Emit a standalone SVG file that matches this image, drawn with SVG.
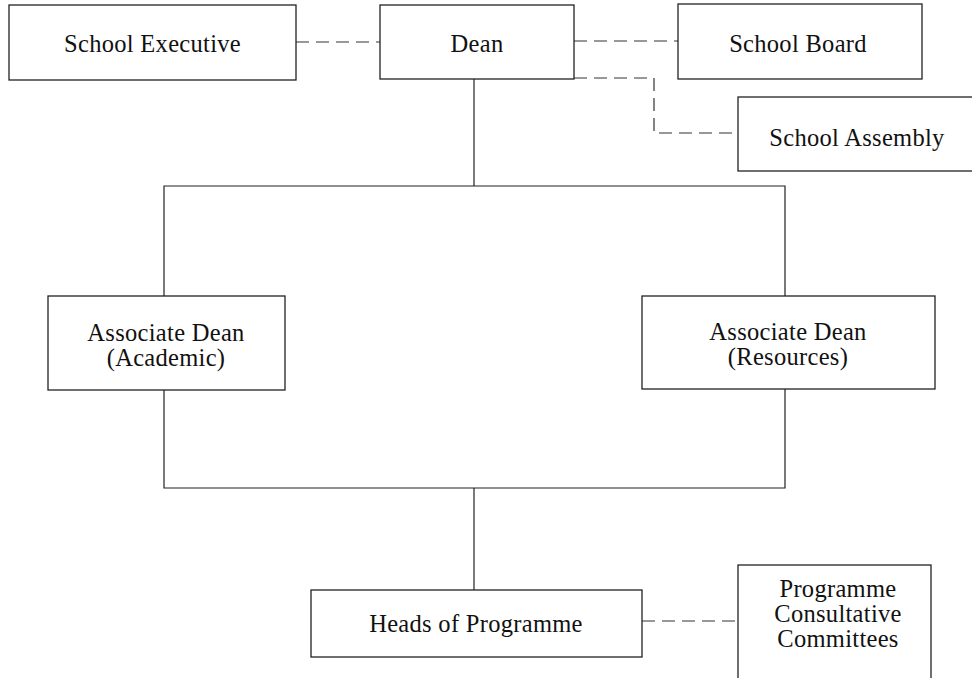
<svg xmlns="http://www.w3.org/2000/svg" width="972" height="678" viewBox="0 0 972 678">
<style>
.box{fill:#fff;stroke:#222;stroke-width:1.3}
.t{font-family:"Liberation Serif","DejaVu Serif",serif;font-size:24.5px;letter-spacing:0.3px;fill:#111;text-anchor:middle}
.solid{fill:none;stroke:#222;stroke-width:1.2}
.dash{fill:none;stroke:#333;stroke-width:1.2;stroke-dasharray:13 7}
</style>
<rect width="972" height="678" fill="#fff"/>
<g id="connectors">
<path class="dash" d="M296,42 H380"/>
<path class="dash" d="M574,41 H678"/>
<path class="dash" d="M574,78 H654 V133 H738"/>
<path class="dash" d="M642,621 H738"/>
<path class="solid" d="M474,79 V186"/>
<path class="solid" d="M164,296 V186 H785 V296"/>
<path class="solid" d="M164,390 V488 H785 V389"/>
<path class="solid" d="M474,488 V590"/>
</g>
<g id="school-executive"><rect class="box" x="9" y="5" width="287" height="75"/><text class="t" x="152.5" y="52">School Executive</text></g>
<g id="dean"><rect class="box" x="380" y="5" width="194" height="74"/><text class="t" x="477" y="52">Dean</text></g>
<g id="school-board"><rect class="box" x="678" y="4" width="244" height="75"/><text class="t" x="798" y="52">School Board</text></g>
<g id="school-assembly"><rect class="box" x="738" y="97" width="240" height="74"/><text class="t" x="857" y="146">School Assembly</text></g>
<g id="assoc-dean-academic"><rect class="box" x="48" y="296" width="237" height="94"/><text class="t" x="166" y="341">Associate Dean</text><text class="t" x="166" y="366">(Academic)</text></g>
<g id="assoc-dean-resources"><rect class="box" x="642" y="296" width="293" height="93"/><text class="t" x="788" y="340">Associate Dean</text><text class="t" x="788" y="365">(Resources)</text></g>
<g id="heads-of-programme"><rect class="box" x="311" y="590" width="331" height="67"/><text class="t" x="476" y="632">Heads of Programme</text></g>
<g id="programme-consultative-committees"><rect class="box" x="738" y="565" width="193" height="125"/><text class="t" x="838" y="597">Programme</text><text class="t" x="838" y="622">Consultative</text><text class="t" x="838" y="647">Committees</text></g>
</svg>
